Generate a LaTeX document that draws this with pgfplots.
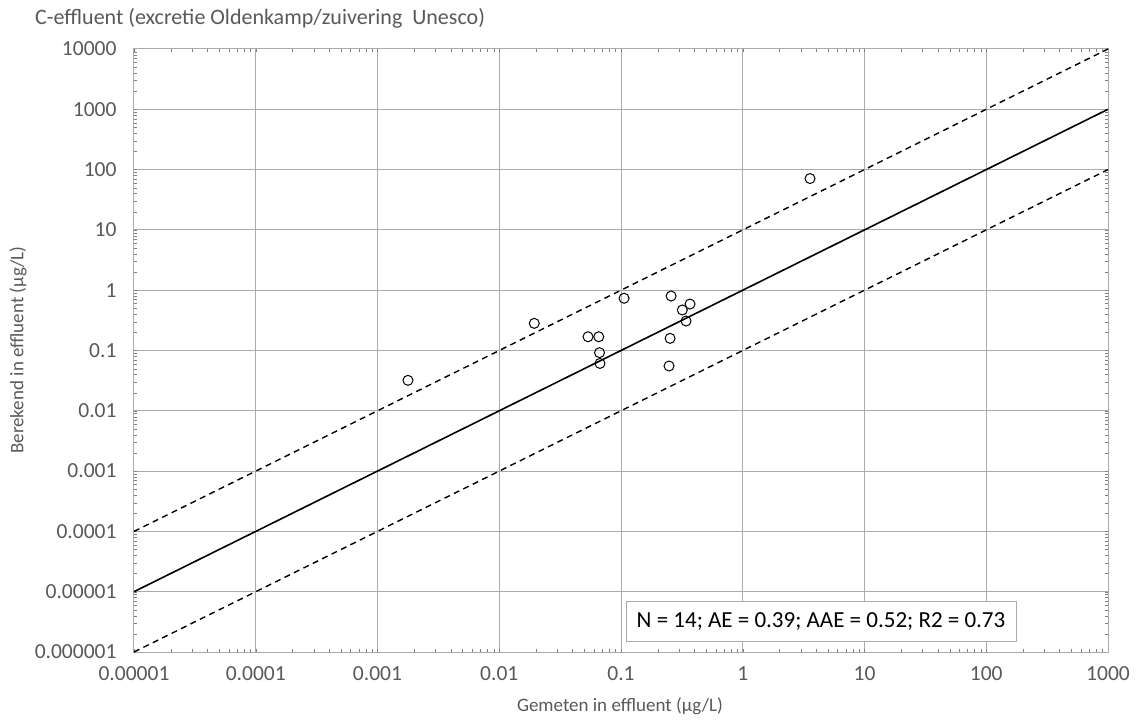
\documentclass[border=0pt]{standalone}
\usepackage{fontspec}
\setmainfont{Carlito}
\usepackage{pgfplots}
\pgfplotsset{compat=1.18}
\definecolor{txt}{RGB}{89,89,89}
\definecolor{gridc}{RGB}{170,170,170}
\begin{document}
\begin{tikzpicture}[x=1bp,y=1bp]
\useasboundingbox (-134,-74) rectangle (1004,652);
\begin{axis}[
  at={(0,0)}, anchor=south west,
  scale only axis, width=974bp, height=603bp,
  xmode=log, ymode=log,
  xmin=1e-5, xmax=1e3, ymin=1e-6, ymax=1e4,
  xtick={1e-5,1e-4,1e-3,1e-2,1e-1,1,10,100,1000},
  xticklabels={0.00001,0.0001,0.001,0.01,0.1,1,10,100,1000},
  ytick={1e-6,1e-5,1e-4,1e-3,1e-2,1e-1,1,10,100,1000,10000},
  yticklabels={0.000001,0.00001,0.0001,0.001,0.01,0.1,1,10,100,1000,10000},
  grid=major, major grid style={draw=gridc, line width=1bp},
  axis line style={draw=gridc, line width=1bp},
  major tick length=0pt, minor tick num=0,
  tick label style={font=\fontsize{21.5bp}{25bp}\selectfont, text=txt},
  xticklabel style={yshift=-11bp},
  yticklabel style={xshift=-14bp},
  clip=false,
]
\addplot[black, line width=1.6bp] coordinates {(1e-5,1e-5) (1e3,1e3)};
\addplot[black, line width=1.4bp, dash pattern=on 6bp off 4.5bp] coordinates {(1e-5,1e-4) (1e3,1e4)};
\addplot[black, line width=1.4bp, dash pattern=on 6bp off 4.5bp] coordinates {(1e-5,1e-6) (1e3,1e2)};
\addplot[only marks, mark=o, mark size=5bp, mark options={fill=white, draw=black, line width=1bp}] coordinates {
(0.00178,0.032)
(0.0194,0.282)
(0.0536,0.169)
(0.0657,0.169)
(0.0666,0.092)
(0.0672,0.061)
(0.106,0.735)
(0.258,0.80)
(0.369,0.59)
(0.319,0.47)
(0.342,0.308)
(0.253,0.159)
(0.248,0.0553)
(3.57,71)
};
\end{axis}
\node[anchor=west, text=txt, font=\fontsize{22bp}{26bp}\selectfont, inner sep=0pt] at (-99,634) {C-effluent (excretie Oldenkamp/zuivering\ \ Unesco)};
\node[rotate=90, text=txt, font=\fontsize{19bp}{23bp}\selectfont, inner sep=0pt] at (-116,302) {Berekend in effluent (µg/L)};
\node[text=txt, font=\fontsize{19bp}{23bp}\selectfont, inner sep=0pt] at (486,-54) {Gemeten in effluent (µg/L)};
\draw[draw=gridc, fill=white, line width=1bp] (492,10) rectangle (882,50);
\node[text=black, font=\fontsize{23bp}{27bp}\selectfont, inner sep=0pt] at (687,30) {N = 14; AE = 0.39; AAE = 0.52; R2 = 0.73};
\end{tikzpicture}
\end{document}
